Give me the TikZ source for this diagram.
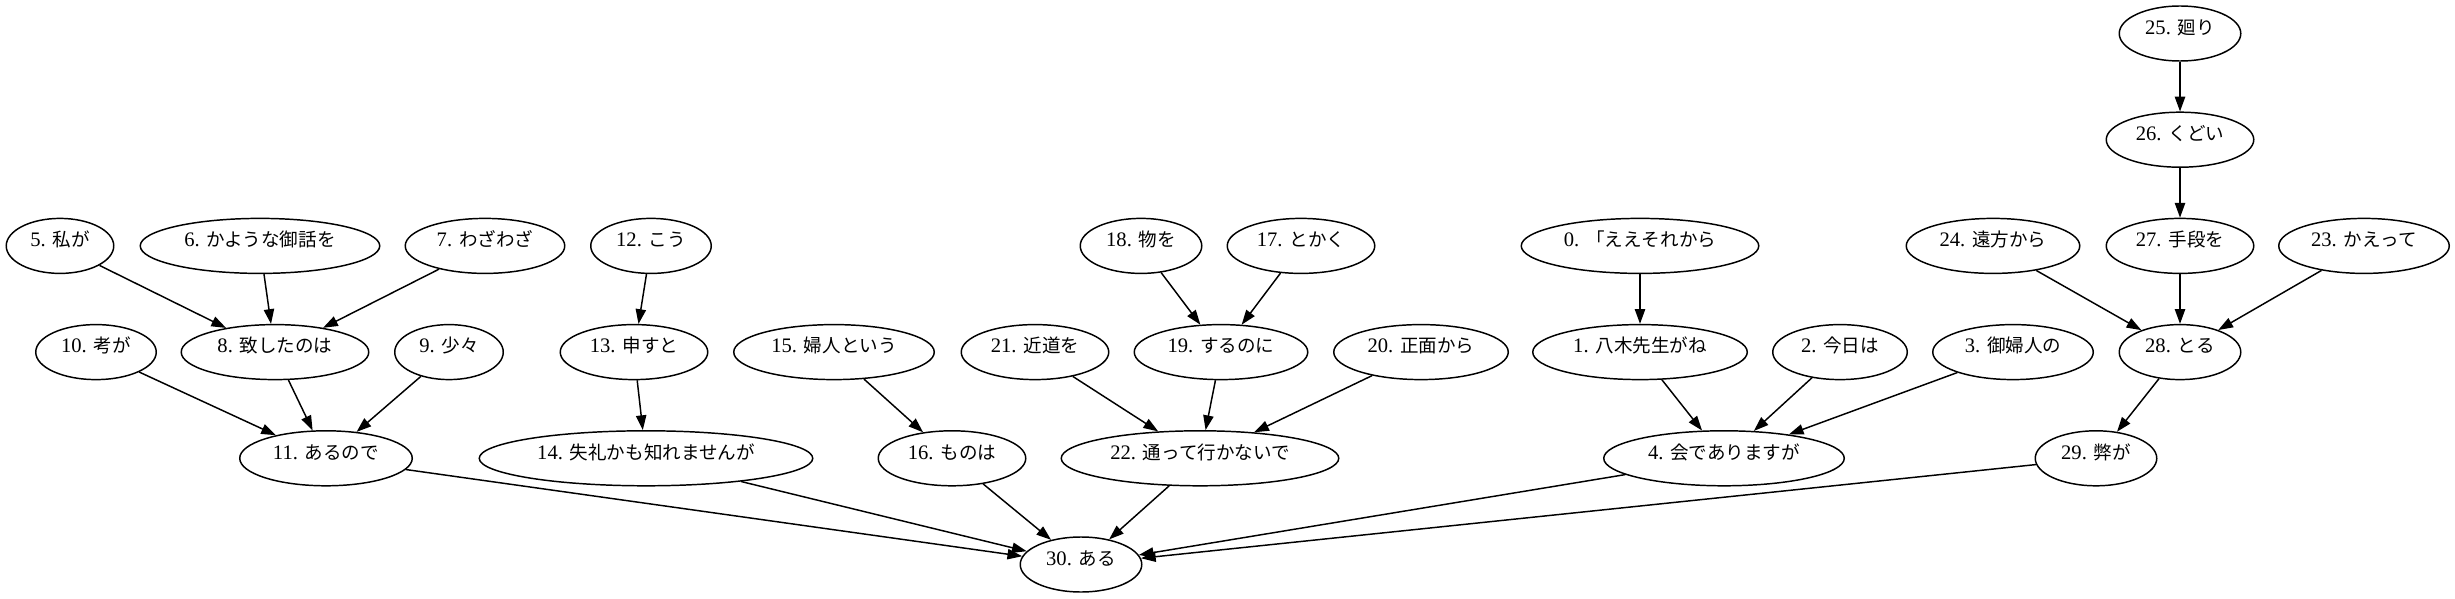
\documentclass[tikz,border=0pt]{standalone}
\usepackage{fontspec}
\setmainfont{Liberation Serif}
\newfontfamily\cjk[Scale=0.9]{Noto Sans CJK JP}
\usetikzlibrary{shapes.geometric,arrows.meta}
\tikzset{
  nd/.style={ellipse, draw=black, line width=1pt, inner sep=0pt,
    minimum width=#1*0.67935pt-1pt, minimum height=55*0.67935pt,
    text height=8pt, text depth=7pt,
    font=\fontsize{14pt}{16pt}\selectfont},
  ed/.style={draw=black, line width=1pt, -{Triangle[length=10pt,width=7pt]}}
}
\begin{document}
\begin{tikzpicture}[x=0.67935pt, y=-0.67935pt]
\useasboundingbox (0,0) rectangle (2455,599);
% rank 1, 2
\node[nd=123] (n25) at (2180,33.5) {25. {\cjk 廻り}};
\node[nd=149] (n26) at (2180,139.7) {26. {\cjk くどい}};
% rank 3
\node[nd=109] (n5) at (60,245.9) {5. {\cjk 私が}};
\node[nd=241] (n6) at (260,245.9) {6. {\cjk かような御話を}};
\node[nd=161] (n7) at (485,245.9) {7. {\cjk わざわざ}};
\node[nd=122] (n12) at (651,245.9) {12. {\cjk こう}};
\node[nd=123] (n18) at (1141,245.9) {18. {\cjk 物を}};
\node[nd=149] (n17) at (1301,245.9) {17. {\cjk とかく}};
\node[nd=239] (n0) at (1640,245.9) {0. {\cjk 「ええそれから}};
\node[nd=175] (n24) at (1993,245.9) {24. {\cjk 遠方から}};
\node[nd=149] (n27) at (2180,245.9) {27. {\cjk 手段を}};
\node[nd=172] (n23) at (2364,245.9) {23. {\cjk かえって}};
% rank 4
\node[nd=122] (n10) at (96,352.1) {10. {\cjk 考が}};
\node[nd=189] (n8) at (275,352.1) {8. {\cjk 致したのは}};
\node[nd=110] (n9) at (449,352.1) {9. {\cjk 少々}};
\node[nd=149] (n13) at (634,352.1) {13. {\cjk 申すと}};
\node[nd=202] (n15) at (834,352.1) {15. {\cjk 婦人という}};
\node[nd=149] (n21) at (1035,352.1) {21. {\cjk 近道を}};
\node[nd=175] (n19) at (1221,352.1) {19. {\cjk するのに}};
\node[nd=176] (n20) at (1421,352.1) {20. {\cjk 正面から}};
\node[nd=216] (n1) at (1640,352.1) {1. {\cjk 八木先生がね}};
\node[nd=136] (n2) at (1840,352.1) {2. {\cjk 今日は}};
\node[nd=162] (n3) at (2013,352.1) {3. {\cjk 御婦人の}};
\node[nd=123] (n28) at (2180,352.1) {28. {\cjk とる}};
% rank 5
\node[nd=174] (n11) at (326,458.3) {11. {\cjk あるので}};
\node[nd=335] (n14) at (646,458.3) {14. {\cjk 失礼かも知れませんが}};
\node[nd=149] (n16) at (952,458.3) {16. {\cjk ものは}};
\node[nd=279] (n22) at (1200,458.3) {22. {\cjk 通って行かないで}};
\node[nd=242] (n4) at (1724,458.3) {4. {\cjk 会でありますが}};
\node[nd=123] (n29) at (2096,458.3) {29. {\cjk 弊が}};
% rank 6
\node[nd=123] (n30) at (1081,564.5) {30. {\cjk ある}};
% edges
\path[ed] (n0) -- (n1);
\path[ed] (n1) -- (n4);
\path[ed] (n2) -- (n4);
\path[ed] (n3) -- (n4);
\path[ed] (n4) -- (n30);
\path[ed] (n5) -- (n8);
\path[ed] (n6) -- (n8);
\path[ed] (n7) -- (n8);
\path[ed] (n8) -- (n11);
\path[ed] (n9) -- (n11);
\path[ed] (n10) -- (n11);
\path[ed] (n11) -- (n30);
\path[ed] (n12) -- (n13);
\path[ed] (n13) -- (n14);
\path[ed] (n14) -- (n30);
\path[ed] (n15) -- (n16);
\path[ed] (n16) -- (n30);
\path[ed] (n18) -- (n19);
\path[ed] (n17) -- (n19);
\path[ed] (n19) -- (n22);
\path[ed] (n21) -- (n22);
\path[ed] (n20) -- (n22);
\path[ed] (n22) -- (n30);
\path[ed] (n25) -- (n26);
\path[ed] (n26) -- (n27);
\path[ed] (n24) -- (n28);
\path[ed] (n27) -- (n28);
\path[ed] (n23) -- (n28);
\path[ed] (n28) -- (n29);
\path[ed] (n29) -- (n30);
\end{tikzpicture}
\end{document}
